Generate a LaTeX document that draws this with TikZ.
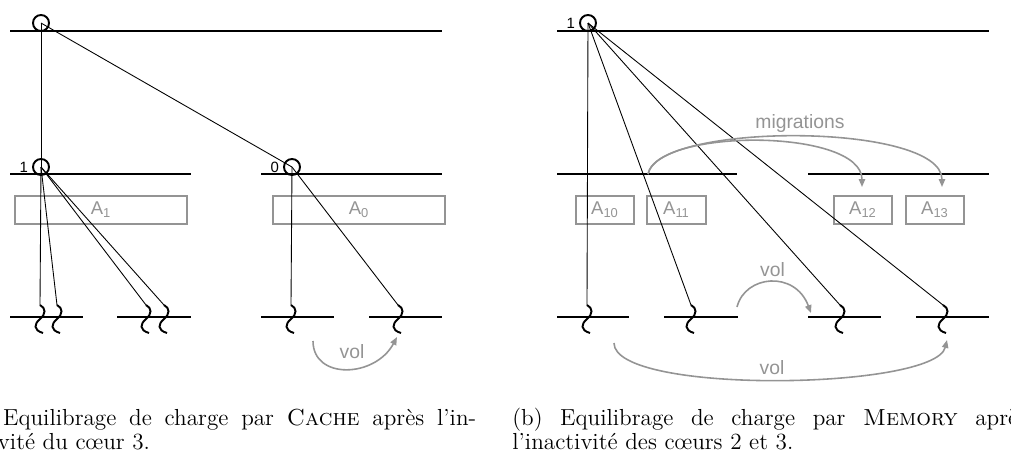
\documentclass[tikz,border=0pt]{standalone}
\usepackage{fontspec}
\newfontfamily\helv{Liberation Sans}
\usetikzlibrary{calc, positioning}
\usetikzlibrary{arrows.meta}
\definecolor{grisA}{gray}{0.58}

\begin{document}
\begin{tikzpicture}[x=0.2mm, y=-0.2mm,
  cpu/.style={circle, draw, line width=1.1pt, minimum size=3.2mm, inner sep=0pt},
  lvl/.style={line width=1.1pt},
  link/.style={line width=0.5pt},
  grp/.style={draw=grisA, line width=0.8pt, text=grisA, font=\helv\fontsize{10.5}{12}\selectfont, minimum height=5.6mm, inner sep=0pt},
  mig/.style={draw=grisA, line width=0.9pt, -{Triangle[length=4.5pt, width=3.6pt]}},
  miglab/.style={text=grisA, font=\helv\fontsize{11}{13}\selectfont, inner sep=0pt},
  num/.style={font=\helv\fontsize{8.5}{10}\selectfont, inner sep=0pt, label distance=2.2pt},
  thread/.pic={\draw[line width=1.1pt] (0,0) .. controls (6,3) and (6,9) .. (0,14) .. controls (-6,19) and (-7,25) .. (3,28);},
  capline/.style={font=\fontsize{13.2}{16}\selectfont, inner sep=0pt, anchor=base west}
]
\useasboundingbox (0,0) rectangle (1011,456);

% (a) CACHE
\draw[lvl] (10,31) -- (442,31);
\draw[lvl] (10,174) -- (191,174);
\draw[lvl] (261,174) -- (442,174);
\draw[lvl] (10,317) -- (83,317);
\draw[lvl] (117,317) -- (191,317);
\draw[lvl] (261,317) -- (334,317);
\draw[lvl] (369,317) -- (442,317);

\node[cpu] (root) at (41,23) {};
\node[cpu, label={[num]left:1}] (c1) at (41,167) {};
\node[cpu, label={[num]left:0}] (c0) at (292,167) {};

\node[grp, minimum width=34.4mm] (A1) at (101,210) {A\textsubscript{1}};
\node[grp, minimum width=34.4mm] (A0) at (359,210) {A\textsubscript{0}};

\coordinate (t1) at (40,305);
\coordinate (t2) at (57,305);
\coordinate (t3) at (146,305);
\coordinate (t4) at (164,305);
\coordinate (t5) at (291,305);
\coordinate (t6) at (398,305);
\pic at (t1) {thread};
\pic at (t2) {thread};
\pic at (t3) {thread};
\pic at (t4) {thread};
\pic at (t5) {thread};
\pic at (t6) {thread};

\draw[link] (root.center) -- (c1.center);
\draw[link] (root.center) -- (c0.center);
\draw[link] (c1.center) -- (t1);
\draw[link] (c1.center) -- (t2);
\draw[link] (c1.center) -- (t3);
\draw[link] (c1.center) -- (t4);
\draw[link] (c0.center) -- (t5);
\draw[link] (c0.center) -- (t6);

\coordinate (volA) at (313,341);
\coordinate (volB) at (397,337);
\draw[mig] (volA) .. controls (313,380) and (375,378) .. (volB);
\node[miglab] (volab) at (352,352) {vol};

% (b) MEMORY
\draw[lvl] (557,31) -- (989,31);
\draw[lvl] (557,174) -- (737,174);
\draw[lvl] (808,174) -- (989,174);
\draw[lvl] (557,317) -- (629,317);
\draw[lvl] (664,317) -- (738,317);
\draw[lvl] (808,317) -- (881,317);
\draw[lvl] (916,317) -- (989,317);

\node[cpu, label={[num]left:1}] (rootb) at (588,23) {};

\node[grp, minimum width=11.6mm] (A10) at (605,210) {A\textsubscript{10}};
\node[grp, minimum width=11.8mm] (A11) at (676.5,210) {A\textsubscript{11}};
\node[grp, minimum width=11.6mm] (A12) at (863,210) {A\textsubscript{12}};
\node[grp, minimum width=11.6mm] (A13) at (935,210) {A\textsubscript{13}};

\coordinate (u1) at (587,305);
\coordinate (u2) at (691,305);
\coordinate (u3) at (840,305);
\coordinate (u4) at (943,305);
\pic at (u1) {thread};
\pic at (u2) {thread};
\pic at (u3) {thread};
\pic at (u4) {thread};

\draw[link] (rootb.center) -- (u1);
\draw[link] (rootb.center) -- (u2);
\draw[link] (rootb.center) -- (u3);
\draw[link] (rootb.center) -- (u4);

\coordinate (m0) at (648,174);
\coordinate (m2) at (862,187);
\coordinate (m3) at (942,187);
\draw[mig] (m0) .. controls (658,128) and (862,128) .. (m2);
\draw[mig] (m0) .. controls (658,122) and (942,122) .. (m3);
\node[miglab] (miglab) at (800,123) {migrations};

\coordinate (v1a) at (737,307);
\coordinate (v1b) at (811,313);
\draw[mig] (v1a) .. controls (745,275) and (795,270) .. (v1b);
\node[miglab] (vol1) at (772.5,270) {vol};

\coordinate (v2a) at (614,343);
\coordinate (v2b) at (947,340);
\draw[mig] (v2a) .. controls (614,395) and (935,390) .. (v2b);
\node[miglab] (vol2) at (772,368) {vol};

% legendes
\node[capline] (capa1) at (-39,425) {\makebox[293pt][s]{(a) Equilibrage de charge par \textsc{Cache} après l'in-}};
\node[capline] (capa2) at (-39,449) {activité du cœur 3.};
\node[capline] (capb1) at (512,425) {\makebox[293pt][s]{(b) Equilibrage de charge par \textsc{Memory} après}};
\node[capline] (capb2) at (512,449) {l'inactivité des cœurs 2 et 3.};
\end{tikzpicture}
\end{document}
